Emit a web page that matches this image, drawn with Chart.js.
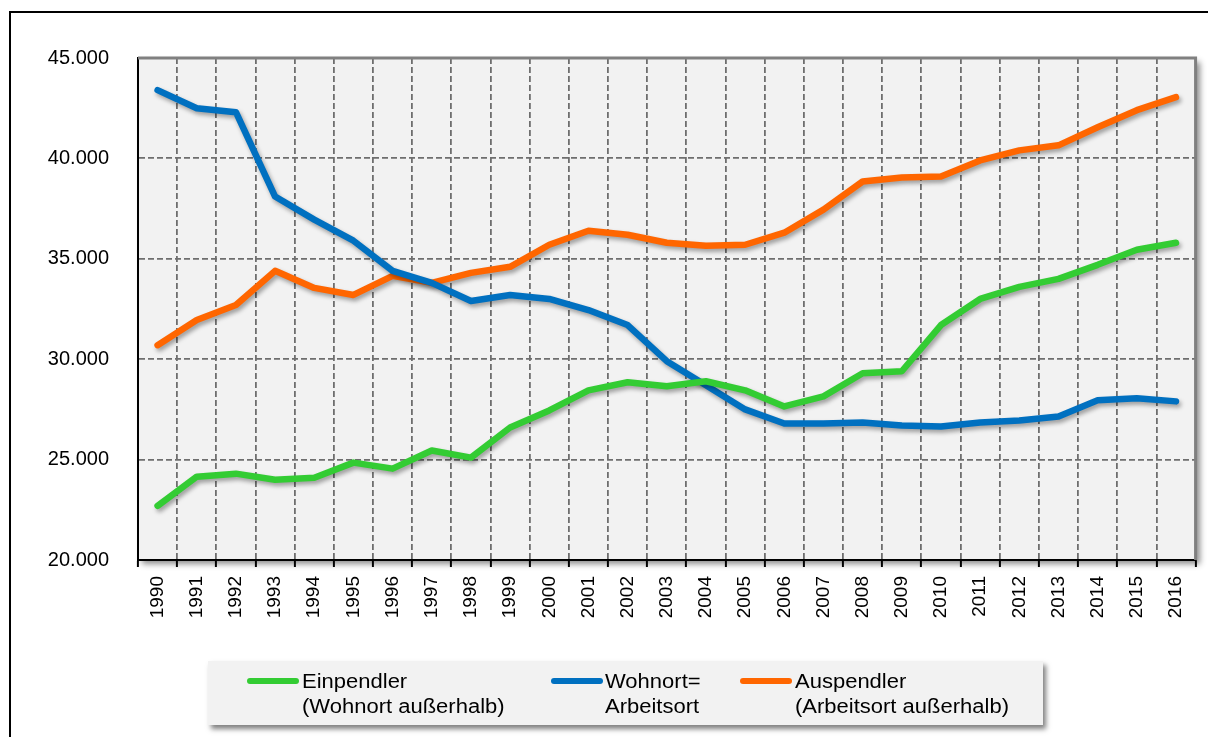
<!DOCTYPE html>
<html lang="de">
<head>
<meta charset="utf-8">
<title>Pendler 1990–2016</title>
<script src="https://cdn.jsdelivr.net/npm/chart.js@4.4.1/dist/chart.umd.min.js"></script>
<style>
    html, body { margin: 0; padding: 0; background: #fff; overflow: hidden; }
    body { width: 1208px; height: 737px; position: relative; font-family: "Liberation Sans", Arial, sans-serif; }
    #frame { position: absolute; left: 9px; top: 11px; width: 1300px; height: 800px;
             border-left: 2px solid #000; border-top: 2px solid #000; }
    #chart { position: absolute; left: 0; top: 0; }
    #legend { position: absolute; left: 208px; top: 661px; width: 835px; height: 64px;
              background: #f2f2f2; box-shadow: 3px 4px 5px rgba(0,0,0,0.5); }
    .item-line { position: absolute; top: 678px; height: 6px; width: 52px; border-radius: 3px; }
    .item-text { position: absolute; top: 669px; font-size: 20px; line-height: 25px; color: #000;
                 white-space: nowrap; transform: scaleX(1.1); transform-origin: left top; }
</style>
</head>
<body>
<div id="frame"></div>
<div id="legend"></div>
<canvas id="chart" width="1208" height="737"></canvas>
<script>
// ── Data ──────────────────────────────────────────────────────────────────
const years = ['1990', '1991', '1992', '1993', '1994', '1995', '1996', '1997', '1998',
               '1999', '2000', '2001', '2002', '2003', '2004', '2005', '2006', '2007',
               '2008', '2009', '2010', '2011', '2012', '2013', '2014', '2015', '2016'];

const einpendler = [22700, 24150, 24300, 24000, 24100, 24850, 24550, 25450, 25100,
                    26600, 27450, 28450, 28850, 28650, 28900, 28450, 27650, 28150,
                    29300, 29400, 31700, 33000, 33600, 34000, 34700, 35450, 35800];

const wohnortGleich = [43400, 42500, 42300, 38100, 36950, 35900, 34400, 33800, 32900,
                       33200, 33000, 32450, 31700, 29900, 28700, 27500, 26800, 26800,
                       26850, 26700, 26650, 26850, 26950, 27150, 27950, 28050, 27900];

const auspendler = [30700, 31950, 32700, 34400, 33550, 33200, 34150, 33800, 34300,
                    34600, 35700, 36400, 36200, 35800, 35650, 35700, 36300, 37450,
                    38850, 39050, 39100, 39900, 40400, 40650, 41550, 42400, 43050];

const seriesNames = [['Einpendler', '(Wohnort außerhalb)'], ['Wohnort=', 'Arbeitsort'],
                     ['Auspendler', '(Arbeitsort außerhalb)']];
const seriesColors = ['#33cc33', '#0070c0', '#ff6600'];

const yMin = 20000;
const yMax = 45000;
const yStep = 5000;

// ── Legend (HTML, two-line labels) ────────────────────────────────────────
const legendPos = [{ line: 247, text: 302 }, { line: 551, text: 605 }, { line: 740, text: 795 }];
seriesNames.forEach((name, i) => {
    const line = document.createElement('div');
    line.className = 'item-line';
    line.style.left = legendPos[i].line + 'px';
    line.style.background = seriesColors[i];
    document.body.appendChild(line);

    const text = document.createElement('div');
    text.className = 'item-text';
    text.style.left = legendPos[i].text + 'px';
    text.innerHTML = name.join('<br>');
    document.body.appendChild(text);
});

// ── Plugins: plot background + frame, soft line shadows ───────────────────
const plotFrame = {
    id: 'plotFrame',
    beforeDraw(chart) {
        const { ctx, chartArea: a } = chart;
        ctx.save();
        ctx.shadowColor = 'rgba(0,0,0,0.45)';
        ctx.shadowBlur = 6;
        ctx.shadowOffsetX = 4;
        ctx.shadowOffsetY = 4;
        ctx.fillStyle = '#f2f2f2';
        ctx.fillRect(a.left, a.top, a.right - a.left, a.bottom - a.top);
        ctx.restore();
    },
    beforeDatasetsDraw(chart) {
        const { ctx, chartArea: a } = chart;
        ctx.save();
        ctx.strokeStyle = '#808080';
        ctx.lineWidth = 3;
        ctx.beginPath();
        ctx.moveTo(a.left, a.top);
        ctx.lineTo(a.right, a.top);
        ctx.lineTo(a.right, a.bottom);
        ctx.stroke();
        ctx.restore();
    },
};

const lineShadow = {
    id: 'lineShadow',
    beforeDatasetDraw(chart) {
        const ctx = chart.ctx;
        ctx.save();
        ctx.shadowColor = 'rgba(0,0,0,0.35)';
        ctx.shadowBlur = 4;
        ctx.shadowOffsetX = 2;
        ctx.shadowOffsetY = 3;
    },
    afterDatasetDraw(chart) {
        chart.ctx.restore();
    },
};

// ── Chart ─────────────────────────────────────────────────────────────────
const FONT = "'Liberation Sans', Arial, sans-serif";
const GRID_COLOR = '#6e6e6e';

new Chart(document.getElementById('chart'), {
    type: 'line',
    data: {
        labels: years,
        datasets: [einpendler, wohnortGleich, auspendler].map((values, i) => ({
            label: seriesNames[i].join(' '),
            data: values,
            borderColor: seriesColors[i],
            backgroundColor: seriesColors[i],
            borderWidth: 6.5,
            borderCapStyle: 'round',
            borderJoinStyle: 'round',
            pointRadius: 0,
            tension: 0,
        })),
    },
    options: {
        responsive: false,
        animation: false,
        events: [],
        layout: { padding: { left: 0, top: 58, right: 11, bottom: 0 } },
        plugins: {
            legend: { display: false },
            tooltip: { enabled: false },
        },
        scales: {
            x: {
                offset: true,
                afterFit: (scale) => { scale.height = 177; },
                grid: {
                    offset: true,
                    color: GRID_COLOR,
                    lineWidth: 1.8,
                    drawTicks: true,
                    tickLength: 7,
                    tickColor: '#000',
                    tickWidth: 2,
                },
                border: { color: '#000', width: 2, dash: [6, 3] },
                ticks: {
                    color: '#000',
                    font: { family: FONT, size: 19 },
                    minRotation: 90,
                    maxRotation: 90,
                    padding: 9,
                    autoSkip: false,
                },
            },
            y: {
                min: yMin,
                max: yMax,
                afterFit: (scale) => { scale.width = 138; },
                grid: { color: GRID_COLOR, lineWidth: 1.8, drawTicks: false },
                border: { color: '#000', width: 2, dash: [6, 3] },
                ticks: {
                    stepSize: yStep,
                    color: '#000',
                    padding: 29,
                    font: { family: FONT, size: 20 },
                    callback: (v) => v.toLocaleString('de-DE'),
                },
            },
        },
    },
    plugins: [plotFrame, lineShadow],
});
</script>
</body>
</html>
